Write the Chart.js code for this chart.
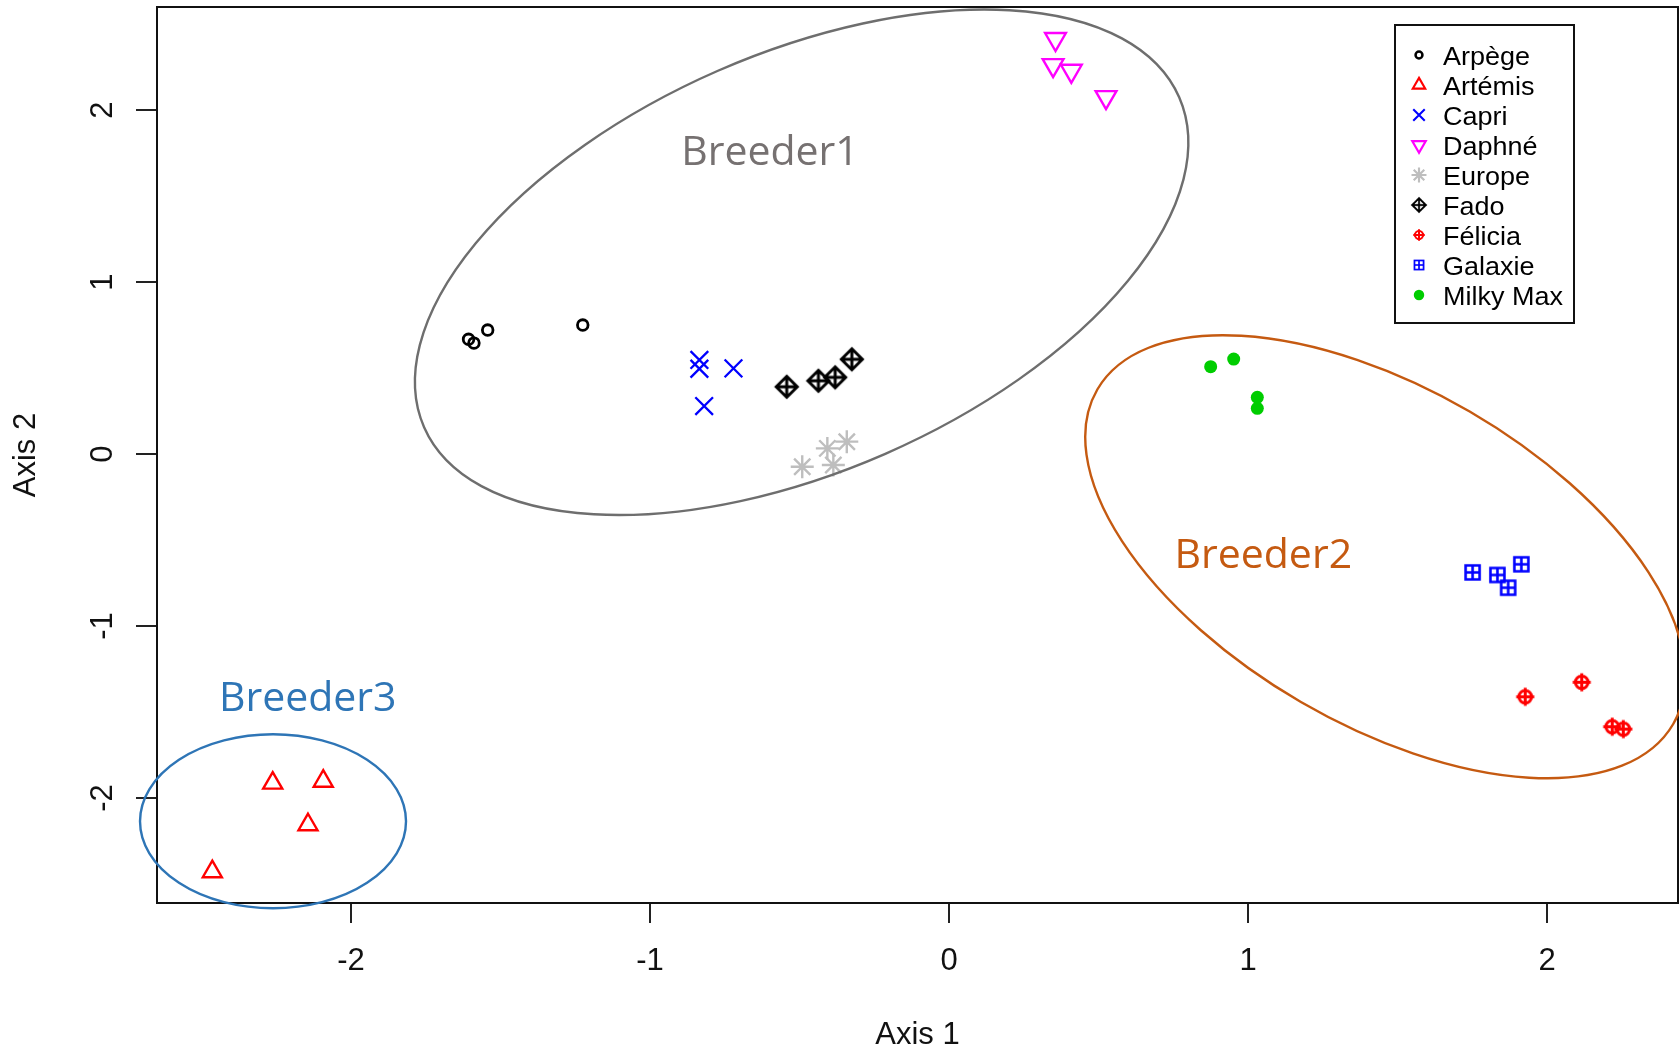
<!DOCTYPE html>
<html><head><meta charset="utf-8">
<script src="https://cdn.jsdelivr.net/npm/chart.js@4/dist/chart.umd.min.js"></script>
<style>html,body{margin:0;padding:0;background:#fff;overflow:hidden}canvas{display:block}</style>
</head><body>
<canvas id="c" width="1679" height="1052"></canvas>
<script>
// ---------------- data ----------------
const seriesNames = ['Arpège','Artémis','Capri','Daphné','Europe','Fado','Félicia','Galaxie','Milky Max'];
const arpegeX  = [-1.607, -1.589, -1.543, -1.225];
const arpegeY  = [ 0.667,  0.645,  0.721,  0.750];
const artemisX = [-2.262, -2.093, -2.144, -2.464];
const artemisY = [-1.913, -1.902, -2.155, -2.428];
const capriX   = [-0.835, -0.835, -0.721, -0.819];
const capriY   = [ 0.547,  0.496,  0.498,  0.279];
const daphneX  = [ 0.356,  0.348,  0.409,  0.525];
const daphneY  = [ 2.413,  2.261,  2.228,  2.075];
const europeX  = [-0.491, -0.407, -0.342, -0.387];
const europeY  = [-0.074,  0.033,  0.072, -0.064];
const fadoX    = [-0.543, -0.437, -0.381, -0.325];
const fadoY    = [ 0.391,  0.426,  0.446,  0.551];
const feliciaX = [ 1.927,  2.116,  2.218,  2.255];
const feliciaY = [-1.411, -1.327, -1.585, -1.599];
const galaxieX = [ 1.751,  1.834,  1.870,  1.914];
const galaxieY = [-0.688, -0.703, -0.777, -0.641];
const milkyX   = [ 0.875,  0.952,  1.031,  1.031];
const milkyY   = [ 0.508,  0.552,  0.330,  0.266];

const xTicks = [-2, -1, 0, 1, 2];
const yTicks = [-2, -1, 0, 1, 2];
const xLimits = [-2.649, 2.438];
const yLimits = [-2.610, 2.599];
const xTitle = 'Axis 1';
const yTitle = 'Axis 2';

const breederNames   = ['Breeder1', 'Breeder2', 'Breeder3'];
const breederCenterX = [-0.493, 1.459, -2.261];
const breederCenterY = [ 1.115, -0.597, -2.135];
const breederLabelX  = [-0.599, 1.051, -2.145];
const breederLabelY  = [ 1.680, -0.665, -1.494];

// ---------------- styles ----------------
const FONT = '"Liberation Sans", Arial, Helvetica, sans-serif';
const seriesX = [arpegeX, artemisX, capriX, daphneX, europeX, fadoX, feliciaX, galaxieX, milkyX];
const seriesY = [arpegeY, artemisY, capriY, daphneY, europeY, fadoY, feliciaY, galaxieY, milkyY];

function makeSymbol(kind, color, half, lw, inner) {
  const s = Math.ceil(2 * half + lw + 4);
  const cv = document.createElement('canvas');
  cv.width = s; cv.height = s;
  const g = cv.getContext('2d');
  const c = s / 2;
  g.strokeStyle = color; g.lineWidth = lw;
  g.beginPath();
  if (kind === 'diamondPlus') {
    g.moveTo(c, c - half); g.lineTo(c + half, c); g.lineTo(c, c + half); g.lineTo(c - half, c); g.closePath();
  } else if (kind === 'circlePlus') {
    g.arc(c, c, inner, 0, Math.PI * 2);
  } else if (kind === 'squarePlus') {
    g.rect(c - half, c - half, 2 * half, 2 * half);
  }
  g.moveTo(c - half, c); g.lineTo(c + half, c);
  g.moveTo(c, c - half); g.lineTo(c, c + half);
  g.stroke();
  return cv;
}

const seriesStyles = [
  {color: '#000000', pointStyle: 'circle', radius: 5.3, borderWidth: 2.8, filled: false},
  {color: '#FF0000', pointStyle: 'triangle', radius: 11, borderWidth: 2.4},
  {color: '#0000FF', pointStyle: 'crossRot', radius: 12.5, borderWidth: 2.3},
  {color: '#FF00FF', pointStyle: 'triangle', rotation: 180, radius: 12, borderWidth: 2.4},
  {color: '#BEBEBE', pointStyle: 'star', radius: 11.5, borderWidth: 2.4},
  {color: '#000000', symbol: ['diamondPlus', 10.5, 3]},
  {color: '#FF0000', symbol: ['circlePlus', 9, 3, 6.3]},
  {color: '#0000FF', symbol: ['squarePlus', 7, 2.6]},
  {color: '#00CD00', pointStyle: 'circle', radius: 6.5, borderWidth: 0, filled: true},
];

const breederStyles = [
  {stroke: '#6E6E6E', text: '#767171', a: 412, b: 209, angle: -23.6},
  {stroke: '#C55A11', text: '#C55A11', a: 333, b: 168, angle: 30.15},
  {stroke: '#2E75B6', text: '#2E75B6', a: 133, b: 87, angle: 0},
];

const datasets = seriesNames.map((name, i) => {
  const st = seriesStyles[i];
  const pts = seriesX[i].map((x, j) => ({x: x, y: seriesY[i][j]}));
  const ds = {label: name, data: pts, showLine: false, pointHoverRadius: 0};
  if (st.symbol) {
    const [kind, half, lw, inner] = st.symbol;
    ds.pointStyle = makeSymbol(kind, st.color, half, lw, inner);
    ds.pointRadius = half;
    ds.borderColor = st.color;
    ds.backgroundColor = st.color;
  } else {
    ds.pointStyle = st.pointStyle;
    ds.pointRadius = st.radius;
    ds.pointRotation = st.rotation || 0;
    ds.pointBorderWidth = st.borderWidth;
    ds.borderColor = st.color;
    ds.pointBorderColor = st.color;
    ds.pointBackgroundColor = st.filled ? st.color : 'rgba(0,0,0,0)';
    ds.backgroundColor = ds.pointBackgroundColor;
  }
  return ds;
});

// ---------------- plugins ----------------
const framePlugin = {
  id: 'frame',
  afterDatasetsDraw(chart) {
    const {ctx, chartArea: a} = chart;
    ctx.save();
    ctx.strokeStyle = '#111'; ctx.lineWidth = 2;
    ctx.strokeRect(a.left, a.top, a.right - a.left, a.bottom - a.top);
    ctx.restore();
  }
};

const breederPlugin = {
  id: 'breeders',
  afterDatasetsDraw(chart) {
    const {ctx} = chart;
    const xs = chart.scales.x, ys = chart.scales.y;
    ctx.save();
    breederNames.forEach((name, i) => {
      const st = breederStyles[i];
      const cx = xs.getPixelForValue(breederCenterX[i]);
      const cy = ys.getPixelForValue(breederCenterY[i]);
      ctx.beginPath();
      ctx.ellipse(cx, cy, st.a, st.b, st.angle * Math.PI / 180, 0, Math.PI * 2);
      ctx.strokeStyle = st.stroke; ctx.lineWidth = 2.4;
      ctx.stroke();
      ctx.font = '41px "Open Sans", "Noto Sans", sans-serif';
      ctx.fillStyle = st.text;
      ctx.textAlign = 'center'; ctx.textBaseline = 'alphabetic';
      ctx.fillText(name, xs.getPixelForValue(breederLabelX[i]), ys.getPixelForValue(breederLabelY[i]));
    });
    ctx.restore();
  }
};

const legendBox = {left: 1395, top: 25, width: 179, height: 298, firstRow: 32, rowStep: 30, symX: 24, textX: 48, scale: 0.65, textScaleX: 1.08};
const legendPlugin = {
  id: 'boxLegend',
  afterDraw(chart) {
    const {ctx} = chart;
    const L = legendBox;
    ctx.save();
    ctx.fillStyle = '#fff';
    ctx.fillRect(L.left, L.top, L.width, L.height);
    ctx.strokeStyle = '#111'; ctx.lineWidth = 2;
    ctx.strokeRect(L.left, L.top, L.width, L.height);
    chart.data.datasets.forEach((ds, i) => {
      const y = L.top + L.firstRow + i * L.rowStep;
      const x = L.left + L.symX;
      const ps = ds.pointStyle;
      const sy = y - 2;
      if (ps instanceof HTMLCanvasElement) {
        const w = ps.width * L.scale, h = ps.height * L.scale;
        ctx.drawImage(ps, x - w / 2, sy - h / 2, w, h);
      } else {
        ctx.save();
        ctx.strokeStyle = ds.pointBorderColor;
        ctx.fillStyle = ds.pointBackgroundColor;
        ctx.lineWidth = ds.pointBorderWidth ? Math.max(1.9, ds.pointBorderWidth * 0.9) : 0;
        Chart.helpers.drawPoint(ctx, {
          pointStyle: ps, radius: ds.pointRadius * L.scale,
          rotation: ds.pointRotation || 0, borderWidth: ctx.lineWidth
        }, x, sy);
        ctx.restore();
      }
      ctx.save();
      ctx.translate(L.left + L.textX, y + 1);
      ctx.scale(L.textScaleX, 1);
      ctx.fillStyle = '#000';
      ctx.font = '25px ' + FONT;
      ctx.textAlign = 'left'; ctx.textBaseline = 'middle';
      ctx.fillText(ds.label, 0, 0);
      ctx.restore();
    });
    ctx.restore();
  }
};

// ---------------- chart ----------------
const tickFont = {family: FONT, size: 31};
function noPad(s) { s.paddingTop = 0; s.paddingBottom = 0; s.paddingLeft = 0; s.paddingRight = 0; }
new Chart(document.getElementById('c').getContext('2d'), {
  type: 'scatter',
  data: {datasets: datasets},
  options: {
    responsive: false,
    animation: false,
    devicePixelRatio: 1,
    events: [],
    layout: {autoPadding: false, padding: {top: 7, right: 1, bottom: 0, left: 0}},
    plugins: {legend: {display: false}, tooltip: {enabled: false}},
    scales: {
      x: {
        type: 'linear', position: 'bottom',
        min: xLimits[0], max: xLimits[1],
        afterFit: s => { s.height = 149; noPad(s); },
        afterBuildTicks: s => { s.ticks = xTicks.map(v => ({value: v})); },
        grid: {drawOnChartArea: false, drawTicks: true, tickLength: 20, color: '#222', lineWidth: 2},
        border: {display: true, color: '#111', width: 2},
        ticks: {font: tickFont, color: '#111', padding: 20, maxRotation: 0, autoSkip: false, callback: v => String(v)},
        title: {display: true, text: xTitle, font: tickFont, color: '#111', padding: {top: 0, bottom: -2}}
      },
      y: {
        type: 'linear', position: 'left',
        min: yLimits[0], max: yLimits[1],
        afterFit: s => { s.width = 157; noPad(s); },
        afterBuildTicks: s => { s.ticks = yTicks.map(v => ({value: v})); },
        grid: {drawOnChartArea: false, drawTicks: true, tickLength: 21, color: '#222', lineWidth: 2},
        border: {display: true, color: '#111', width: 2},
        ticks: {font: tickFont, color: '#111', padding: 19, minRotation: 90, maxRotation: 90, crossAlign: 'center', autoSkip: false, callback: v => String(v)},
        title: {display: true, text: yTitle, font: tickFont, color: '#111', padding: {top: 8, bottom: 0}}
      }
    }
  },
  plugins: [framePlugin, breederPlugin, legendPlugin]
});
</script>
</body></html>
